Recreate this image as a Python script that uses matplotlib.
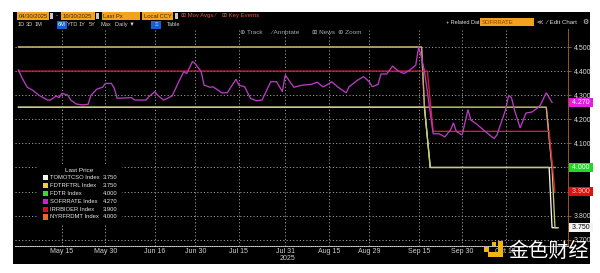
import matplotlib
matplotlib.use("Agg")
import matplotlib.pyplot as plt
import matplotlib.dates as mdates
import matplotlib.transforms as mtransforms
from matplotlib.patches import Rectangle
import pandas as pd

# ---------------- data ----------------
sofr_dates = ["2025-04-30", "2025-05-01", "2025-05-03", "2025-05-05", "2025-05-07", "2025-05-10",
              "2025-05-11", "2025-05-13", "2025-05-14", "2025-05-15", "2025-05-17", "2025-05-18",
              "2025-05-20", "2025-05-22", "2025-05-24", "2025-05-25", "2025-05-27", "2025-05-29",
              "2025-05-30", "2025-06-01", "2025-06-02", "2025-06-03", "2025-06-05", "2025-06-08",
              "2025-06-09", "2025-06-13", "2025-06-14", "2025-06-16", "2025-06-17", "2025-06-19",
              "2025-06-20", "2025-06-22", "2025-06-24", "2025-06-26", "2025-06-27", "2025-06-29",
              "2025-06-30", "2025-07-02", "2025-07-03", "2025-07-05", "2025-07-06", "2025-07-08",
              "2025-07-09", "2025-07-11", "2025-07-14", "2025-07-15", "2025-07-17", "2025-07-19",
              "2025-07-21", "2025-07-23", "2025-07-26", "2025-07-28", "2025-07-30", "2025-07-31",
              "2025-08-02", "2025-08-03", "2025-08-06", "2025-08-09", "2025-08-11", "2025-08-13",
              "2025-08-14", "2025-08-16", "2025-08-18", "2025-08-21", "2025-08-22", "2025-08-25",
              "2025-08-27", "2025-08-29", "2025-08-30", "2025-09-01", "2025-09-02", "2025-09-04",
              "2025-09-06", "2025-09-08", "2025-09-10", "2025-09-12", "2025-09-14", "2025-09-15",
              "2025-09-16", "2025-09-17", "2025-09-20", "2025-09-22", "2025-09-24", "2025-09-26",
              "2025-09-27", "2025-09-28", "2025-09-30", "2025-10-02", "2025-10-03", "2025-10-05",
              "2025-10-08", "2025-10-11", "2025-10-12", "2025-10-15", "2025-10-16", "2025-10-17",
              "2025-10-18", "2025-10-20", "2025-10-22", "2025-10-24", "2025-10-26", "2025-10-27",
              "2025-10-29", "2025-10-31"]
sofr_values = [4.405, 4.377, 4.333, 4.320, 4.300, 4.280,
               4.280, 4.297, 4.290, 4.308, 4.300, 4.280,
               4.263, 4.260, 4.262, 4.300, 4.325, 4.333,
               4.349, 4.349, 4.330, 4.288, 4.288, 4.290,
               4.280, 4.280, 4.294, 4.315, 4.300, 4.280,
               4.285, 4.297, 4.349, 4.398, 4.390, 4.440,
               4.430, 4.398, 4.342, 4.333, 4.335, 4.320,
               4.310, 4.310, 4.366, 4.342, 4.335, 4.287,
               4.277, 4.280, 4.356, 4.356, 4.315, 4.384,
               4.349, 4.333, 4.342, 4.345, 4.354, 4.335,
               4.340, 4.356, 4.335, 4.310, 4.335, 4.363,
               4.377, 4.355, 4.335, 4.345, 4.388, 4.388,
               4.421, 4.400, 4.390, 4.405, 4.425, 4.500,
               4.455, 4.400, 4.140, 4.140, 4.127, 4.156,
               4.185, 4.149, 4.135, 4.240, 4.197, 4.180,
               4.149, 4.120, 4.135, 4.240, 4.300, 4.290,
               4.240, 4.164, 4.226, 4.230, 4.247, 4.260,
               4.310, 4.270]

tomo_dates = ["2025-04-30", "2025-09-17", "2025-09-19", "2025-10-30", "2025-10-31", "2025-11-02"]
tomo_values = [4.25, 4.25, 4.00, 4.00, 3.75, 3.75]

fdtrftrl_dates = ["2025-04-30", "2025-09-17", "2025-09-19", "2025-10-31", "2025-11-01", "2025-11-02"]
fdtrftrl_values = [4.25, 4.25, 4.00, 4.00, 3.75, 3.75]

fdtr_dates = ["2025-04-30", "2025-09-16", "2025-09-17", "2025-10-29", "2025-10-31", "2025-11-01"]
fdtr_values = [4.50, 4.50, 4.25, 4.25, 4.00, 4.00]

iorb_dates = ["2025-04-30", "2025-09-18", "2025-09-20", "2025-10-30", "2025-11-01"]
iorb_values = [4.40, 4.40, 4.15, 4.15, 3.90]

srf_dates = ["2025-04-30", "2025-09-16", "2025-09-17", "2025-10-29", "2025-10-31", "2025-11-01"]
srf_values = [4.50, 4.50, 4.25, 4.25, 4.00, 4.00]

legend_names = ["TOMOTCSO Index", "FDTRFTRL Index", "FDTR Index",
                "SOFRRATE Index", "IRRBIOER Index", "NYRFRDMT Index"]

tick_dates = ["2025-05-15", "2025-05-30", "2025-06-16", "2025-06-30", "2025-07-15", "2025-07-31",
              "2025-08-15", "2025-08-29", "2025-09-15", "2025-09-30", "2025-10-15"]
tick_labels = ["May 15", "May 30", "Jun 16", "Jun 30", "Jul 15", "Jul 31",
               "Aug 15", "Aug 29", "Sep 15", "Sep 30", "Oct 15"]
y_ticks = [3.7, 3.8, 3.9, 4.0, 4.1, 4.2, 4.3, 4.4, 4.5]

# ---------------- figure ----------------
plt.rcParams['font.family'] = ['Liberation Sans', 'DejaVu Sans']
W, H = 600, 273
fig = plt.figure(figsize=(6.0, 2.73), dpi=100)
fig.patch.set_facecolor("white")

def fx(x):
    return x / W

def fy(y):
    return 1 - y / H

fig.patches.append(Rectangle((fx(13), fy(264)), (590 - 13) / W, (264 - 12) / H,
                             transform=fig.transFigure, facecolor="black",
                             edgecolor="none", zorder=-5))

ax = fig.add_axes([fx(15), fy(246), (568 - 15) / W, (246 - 28) / H])
ax.set_facecolor("black")

series = [
    (fdtr_dates, fdtr_values, "#3fd43f"),
    (srf_dates, srf_values, "#e8907a"),
    (tomo_dates, tomo_values, "#f2f2f2"),
    (fdtrftrl_dates, fdtrftrl_values, "#c8cc66"),
    (iorb_dates, iorb_values, "#d4203a"),
    (sofr_dates, sofr_values, "#b83cc0"),
]
for d, v, c in series:
    ax.plot(pd.to_datetime(d), v, color=c, lw=0.95, solid_joinstyle="miter", zorder=3)

start = mdates.date2num(pd.Timestamp("2025-04-30"))
ax.set_xlim(start - 1.2, start + 189.5)
ax.set_ylim(3.674, 4.579)

# last-value boxes cover the 4.000 and 3.900 tick labels in the reference
covered = {4.0, 3.9}
ax.yaxis.tick_right()
ax.set_yticks(y_ticks)
ax.set_yticklabels(["" if round(t, 1) in covered else f"{t:.3f}" for t in y_ticks])
ax.tick_params(axis="y", colors="#b06a30", labelcolor="#d8d8d8", labelsize=5,
               length=2.5, width=0.6, pad=1.5)
ax.set_xticks(pd.to_datetime(tick_dates))
ax.set_xticklabels(tick_labels)
ax.tick_params(axis="x", length=0, labelcolor="#d0d0d0", labelsize=5, pad=1.5)

# dotted grid (drawn explicitly so it is clearly visible)
for t in y_ticks:
    ax.axhline(t, color="#9a9a9a", linestyle=(0, (1.2, 2.2)), linewidth=0.7, zorder=1)
for t in pd.to_datetime(tick_dates):
    ax.axvline(t, color="#9a9a9a", linestyle=(0, (1.2, 2.2)), linewidth=0.7, zorder=1)

for s in ["top", "left"]:
    ax.spines[s].set_visible(False)
ax.spines["right"].set_color("#a0602c")
ax.spines["right"].set_linestyle((0, (1, 1.2)))
ax.spines["right"].set_linewidth(0.7)
ax.spines["bottom"].set_color("#cfcfcf")
ax.spines["bottom"].set_linestyle((0, (1, 1.2)))
ax.spines["bottom"].set_linewidth(0.7)

fig.text(fx(287), fy(258.5), "2025", color="#d0d0d0", fontsize=5, ha="center", va="center")

# last-value boxes on the right axis
trans = mtransforms.blended_transform_factory(ax.transAxes, ax.transData)
boxes = [
    (sofr_values[-1], "#e21ee2", "white"),
    (fdtr_values[-1], "#22d822", "white"),
    (iorb_values[-1], "#e01010", "#ffd0d0"),
    (tomo_values[-1], "#f4f4f4", "black"),
]
for v, fc, tc in boxes:
    ax.text(1.004, v, f" {v:.3f} ", transform=trans, fontsize=5.0, color=tc,
            ha="left", va="center", zorder=10, clip_on=False,
            bbox=dict(boxstyle="square,pad=0.12", fc=fc, ec="none"))

# legend
fig.patches.append(Rectangle((fx(37), fy(224)), (122 - 37) / W, (224 - 164) / H,
                             transform=fig.transFigure, facecolor="black",
                             edgecolor="none", zorder=5))
fig.text(fx(79), fy(170), "Last Price", color="#e8e8e8", fontsize=4.6,
         ha="center", va="center", zorder=6)
legend_colors = ["#f4f4f4", "#e8d23a", "#3fd43f", "#d21ed2", "#d41020", "#e86a2a"]
legend_values = [tomo_values[-1], fdtrftrl_values[-1], fdtr_values[-1],
                 sofr_values[-1], iorb_values[-1], srf_values[-1]]
for i, (n, c, v) in enumerate(zip(legend_names, legend_colors, legend_values)):
    yy = 177.5 + i * 7.9
    fig.patches.append(Rectangle((fx(43), fy(yy + 2.6)), 5.2 / W, 5.2 / H,
                                 transform=fig.transFigure, facecolor=c,
                                 edgecolor="none", zorder=6))
    fig.text(fx(50.5), fy(yy), n, color="#e8e8e8", fontsize=4.2, ha="left",
             va="center", zorder=6)
    fig.text(fx(117.5), fy(yy), f"{v:.3f}", color="#e8e8e8", fontsize=4.2,
             ha="right", va="center", zorder=6)

# toolbar
AMBER = "#f2a21c"
def obox(x0, x1, y0, y1, label, fc=AMBER, tc="#3a2a10"):
    fig.patches.append(Rectangle((fx(x0), fy(y1)), (x1 - x0) / W, (y1 - y0) / H,
                                 transform=fig.transFigure, facecolor=fc,
                                 edgecolor="none", zorder=6))
    if label:
        fig.text(fx(x0 + 1.5), fy((y0 + y1) / 2), label, color=tc, fontsize=4.2,
                 ha="left", va="center", zorder=7)

obox(17, 49, 12, 20, "04/30/2025")
obox(50, 53, 13.5, 18.5, "", fc="#c8c8c8")
fig.text(fx(56.5), fy(16), "-", color="#d0d0d0", fontsize=4.5, ha="center", va="center")
obox(61, 95, 12, 20, "10/30/2025")
obox(96, 99, 13.5, 18.5, "", fc="#c8c8c8")
obox(102, 140, 12, 20, "Last Px")
obox(142, 173, 12, 20, "Local CCY")
obox(175, 178, 13.5, 18.5, "", fc="#c8c8c8")
fig.text(fx(181), fy(16), "\u229e Mov Avgs \u2044", color="#e0583a", fontsize=4.3,
         ha="left", va="center")
fig.text(fx(222), fy(16), "\u229e Key Events", color="#e0583a", fontsize=4.3,
         ha="left", va="center")

fig.text(fx(446), fy(22), "+ Related Dat", color="#e0e0e0", fontsize=4.0, ha="left", va="center")
obox(480, 534, 18, 26, "SOFRRATE", tc="#7a4a10")
fig.text(fx(537), fy(22), "\u226a  \u2044 Edit Chart", color="#e0e0e0", fontsize=4.4,
         ha="left", va="center")
fig.text(fx(585), fy(22), "\u2699", color="#e0e0e0", fontsize=5, ha="center", va="center",
         family=["DejaVu Sans"])

row2 = [("1D", 21), ("3D", 29), ("1M", 38.5), ("YTD", 73), ("1Y", 82.5), ("5Y", 92),
        ("Max", 106), ("Daily \u25bc", 125), ("Table", 174)]
for t, x in row2:
    fig.text(fx(x), fy(24.5), t, color="#d0d0d0", fontsize=4.1, ha="center", va="center")
obox(57, 67, 20.5, 28.5, "", fc="#1a5fd0")
fig.text(fx(62), fy(24.5), "6M", color="white", fontsize=4.1, ha="center", va="center", zorder=8)
obox(151, 161, 20.5, 28.5, "", fc="#1a5fd0")
fig.text(fx(156), fy(24.5), "\u2261", color="#a0c0ff", fontsize=4.3, ha="center", va="center",
         zorder=8)

fig.text(fx(240), fy(33), "\u2295 Track", color="#a8a8a8", fontsize=4.6, ha="left", va="center")
fig.text(fx(271), fy(33), "\u2044 Annotate", color="#a8a8a8", fontsize=4.6, ha="left", va="center")
fig.text(fx(312), fy(33), "\u229e News", color="#a8a8a8", fontsize=4.6, ha="left", va="center")
fig.text(fx(338), fy(33), "\u2295 Zoom", color="#a8a8a8", fontsize=4.6, ha="left", va="center")

# watermark
GOLD = "#f0b414"
for (x0, x1, y0, y1) in [(498, 503, 241, 257), (488, 503, 252, 257),
                         (484, 489, 247, 252), (492, 496, 242, 246)]:
    fig.patches.append(Rectangle((fx(x0), fy(y1)), (x1 - x0) / W, (y1 - y0) / H,
                                 transform=fig.transFigure, facecolor=GOLD,
                                 edgecolor="none", zorder=9))
fig.text(fx(508), fy(251), "金色财经", color="white", fontsize=14.5,
         family=["Noto Sans CJK SC", "DejaVu Sans"], ha="left", va="center", zorder=10)

fig.savefig("out.png", dpi=100, facecolor=fig.get_facecolor())
